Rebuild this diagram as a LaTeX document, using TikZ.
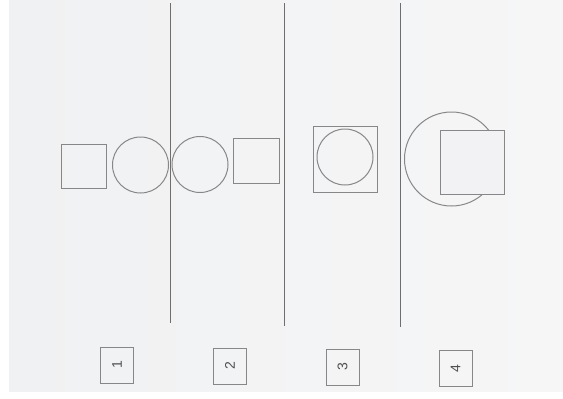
\documentclass[tikz,border=0pt]{standalone}
\usepackage{tikz}
\usepackage{fontspec}
\setsansfont{Liberation Sans}
\usetikzlibrary{positioning}
\definecolor{pPaperL}{RGB}{240,241,242}
\definecolor{pPaper}{RGB}{233,234,236}
\definecolor{pPaperR}{RGB}{246,246,247}
\definecolor{pLine}{RGB}{135,135,137}
\definecolor{pRule}{RGB}{110,110,112}
\definecolor{pInk}{RGB}{80,80,82}
\tikzset{
  sq/.style={rectangle, draw=pLine, line width=1pt, inner sep=0pt},
  rnd/.style={circle, draw=pLine, line width=1pt, inner sep=0pt},
  divider/.style={draw=pRule, line width=0.9pt},
  tag/.style={rectangle, draw=pLine, line width=1pt,
              minimum width=33pt, minimum height=36pt, inner sep=0pt,
              text=pInk, font=\sffamily\fontsize{14}{16}\selectfont},
}
\begin{document}
\begin{tikzpicture}[x=1pt, y=-1pt]
  \useasboundingbox (0,0) rectangle (563,399);
  \fill[white] (0,0) rectangle (563,399);
  \shade[left color=pPaperL, middle color=pPaper, right color=pPaperR]
    (9,0) rectangle (563,391);
  % dividers
  \foreach \n/\x/\yb in {a/170/323, b/284/326, c/400/327} {
    \coordinate (top\n) at (\x,3);
    \coordinate (bot\n) at (\x,\yb);
    \draw[divider] (top\n) -- (bot\n);
  }
  % panel 1: apart
  \node[sq, minimum width=45pt, minimum height=44pt] (sqA) at (83.5,166) {};
  \node[rnd, minimum size=56pt] (ciA) at (140.5,165) {};
  % panel 2: touching
  \node[rnd, minimum size=56pt] (ciB) at (200,164.5) {};
  \node[sq, minimum width=46pt, minimum height=45pt] (sqB) at (256,160.5) {};
  % panel 3: inside
  \node[sq, minimum width=64pt, minimum height=66pt] (sqC) at (345,159) {};
  \node[rnd, minimum size=56pt] (ciC) at (345,157) {};
  % panel 4: overlapping
  \node[rnd, minimum size=94pt] (ciD) at (451.5,159) {};
  \node[sq, fill=pPaperR!70!pPaper, minimum width=64pt, minimum height=64pt]
    (sqD) at (472,162) {};
  % panel numbers
  \foreach \k/\x/\y in {1/117/365, 2/230/366, 3/342.5/367, 4/455.5/368.5}
    \node[tag] (num\k) at (\x,\y) {\rotatebox{90}{\k}};
\end{tikzpicture}
\end{document}
